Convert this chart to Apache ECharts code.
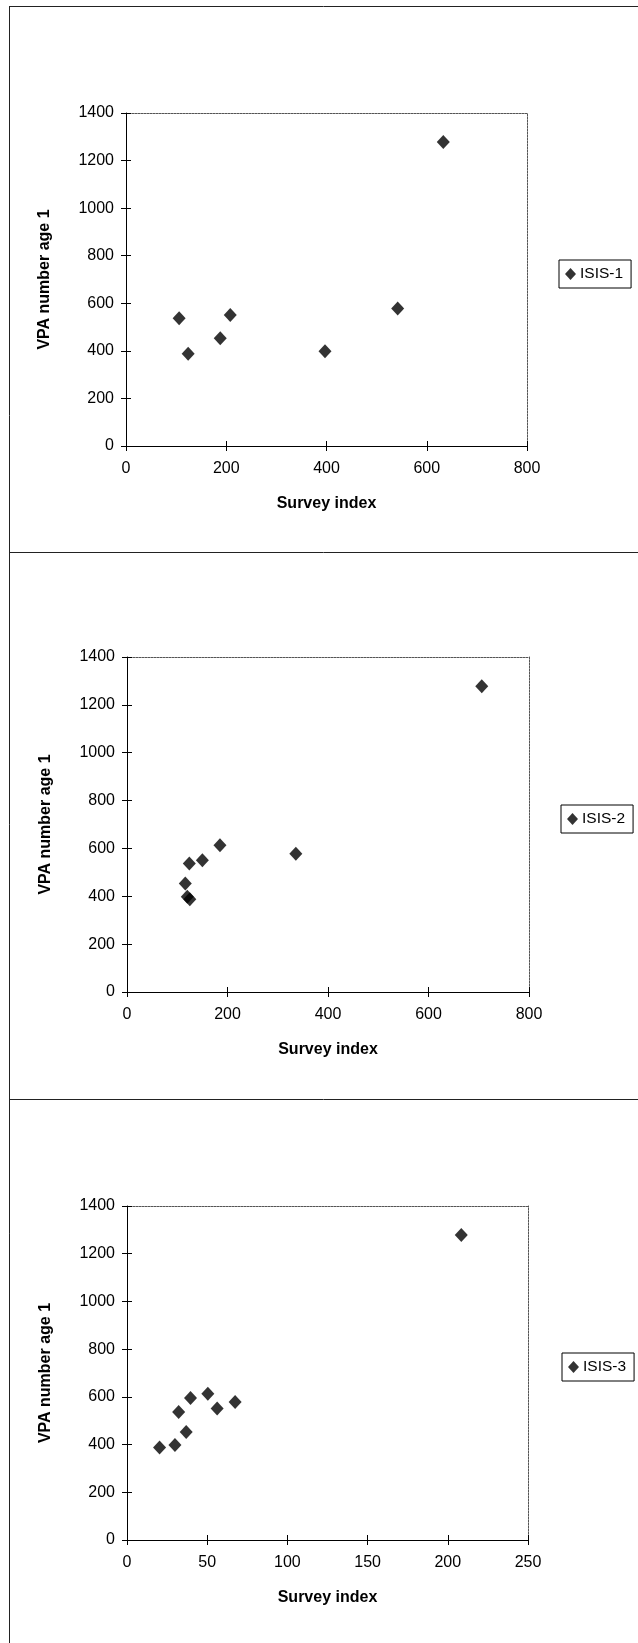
<!DOCTYPE html>
<html>
<head>
<meta charset="utf-8">
<script src="https://cdn.jsdelivr.net/npm/echarts@6/dist/echarts.min.js"></script>
<style>
html,body{margin:0;padding:0;background:#fff;}
#c{width:638px;height:1643px;}
</style>
</head>
<body>
<div id="c"></div>
<script>
// ---- data ----
const seriesNames = ['ISIS-1', 'ISIS-2', 'ISIS-3'];
const xTitle = 'Survey index';
const yTitle = 'VPA number age 1';

const isis1Survey = [106, 124, 188, 208, 397, 542, 633];
const isis1Vpa    = [537, 388, 453, 551, 398, 578, 1278];

const isis2Survey = [116, 120, 125, 124, 150, 185, 336, 706];
const isis2Vpa    = [453, 398, 388, 537, 551, 613, 578, 1278];

const isis3Survey = [20.3, 29.9, 32.2, 36.9, 39.6, 50.4, 56.2, 67.4, 208.4];
const isis3Vpa    = [388, 398, 537, 453, 595, 613, 551, 578, 1278];

const xTicks1 = [0, 200, 400, 600, 800];
const xTicks2 = [0, 200, 400, 600, 800];
const xTicks3 = [0, 50, 100, 150, 200, 250];
const yTicks  = [0, 200, 400, 600, 800, 1000, 1200, 1400];

// ---- layout ----
const panels = [
  {survey: isis1Survey, vpa: isis1Vpa, xt: xTicks1, grid: {left: 126, top: 113, width: 401, height: 333}, legend: {left: 559, top: 260}},
  {survey: isis2Survey, vpa: isis2Vpa, xt: xTicks2, grid: {left: 127, top: 657, width: 402, height: 335}, legend: {left: 561, top: 805}},
  {survey: isis3Survey, vpa: isis3Vpa, xt: xTicks3, grid: {left: 127, top: 1206, width: 401, height: 334}, legend: {left: 562, top: 1353}}
];

const FONT = '"Liberation Sans", Arial, sans-serif';
const plain = v => String(v);
const grids = [], xAxes = [], yAxes = [], series = [], legends = [];

panels.forEach((p, i) => {
  grids.push(Object.assign({containLabel: false}, p.grid));
  const xmin = p.xt[0], xmax = p.xt[p.xt.length - 1], xstep = p.xt[1] - p.xt[0];
  const ymin = yTicks[0], ymax = yTicks[yTicks.length - 1], ystep = yTicks[1] - yTicks[0];
  const baseX = {type: 'value', gridIndex: i, min: xmin, max: xmax, interval: xstep, splitLine: {show: false}};
  const baseY = {type: 'value', gridIndex: i, min: ymin, max: ymax, interval: ystep, splitLine: {show: false}};
  const mainXIdx = xAxes.length;
  xAxes.push(Object.assign({}, baseX, {
    position: 'bottom',
    name: xTitle, nameLocation: 'middle', nameGap: 50,
    nameTextStyle: {fontFamily: FONT, fontSize: 16, fontWeight: 'bold', color: '#000'},
    axisLine: {show: true, onZero: false, lineStyle: {color: '#000', width: 1}},
    axisTick: {show: true, inside: false, length: 5, lineStyle: {color: '#000'}},
    axisLabel: {fontFamily: FONT, fontSize: 16, color: '#000', margin: 15, formatter: plain}
  }));
  xAxes.push(Object.assign({}, baseX, {
    position: 'bottom', axisLine: {show: false, onZero: false},
    axisTick: {show: true, inside: true, length: 5, lineStyle: {color: '#000'}},
    axisLabel: {show: false}
  }));
  xAxes.push(Object.assign({}, baseX, {
    position: 'top', axisLine: {show: true, onZero: false, lineStyle: {color: '#555', width: 1, type: [2, 1]}},
    axisTick: {show: false}, axisLabel: {show: false}
  }));
  const mainYIdx = yAxes.length;
  yAxes.push(Object.assign({}, baseY, {
    position: 'left',
    name: yTitle, nameLocation: 'middle', nameGap: 73, nameRotate: 90,
    nameTextStyle: {fontFamily: FONT, fontSize: 16, fontWeight: 'bold', color: '#000'},
    axisLine: {show: true, onZero: false, lineStyle: {color: '#000', width: 1}},
    axisTick: {show: true, inside: false, length: 5, lineStyle: {color: '#000'}},
    axisLabel: {fontFamily: FONT, fontSize: 16, color: '#000', margin: 12, formatter: plain}
  }));
  yAxes.push(Object.assign({}, baseY, {
    position: 'left', axisLine: {show: false, onZero: false},
    axisTick: {show: true, inside: true, length: 5, lineStyle: {color: '#000'}},
    axisLabel: {show: false}
  }));
  yAxes.push(Object.assign({}, baseY, {
    position: 'right', axisLine: {show: true, onZero: false, lineStyle: {color: '#555', width: 1, type: [2, 1]}},
    axisTick: {show: false}, axisLabel: {show: false}
  }));
  series.push({
    name: seriesNames[i], type: 'scatter',
    xAxisIndex: mainXIdx, yAxisIndex: mainYIdx,
    symbol: 'diamond', symbolSize: [13, 14],
    itemStyle: {color: '#000'},
    data: p.survey.map((s, k) => [s, p.vpa[k]]),
    silent: true
  });
  legends.push({
    data: [{name: seriesNames[i], icon: 'diamond'}],
    left: p.legend.left, top: p.legend.top,
    orient: 'vertical',
    itemWidth: 11, itemHeight: 12, itemGap: 0,
    padding: [6, 8, 6, 6],
    borderColor: '#000', borderWidth: 1,
    backgroundColor: '#fff',
    selectedMode: false,
    textStyle: {fontFamily: FONT, fontSize: 15.5, color: '#000', padding: [0, 0, 0, -1], lineHeight: 16}
  });
});

const lineStyle = {stroke: '#222', lineWidth: 1};
const frame = [
  {type: 'line', shape: {x1: 9, y1: 6.5, x2: 638, y2: 6.5}, style: lineStyle, silent: true},
  {type: 'line', shape: {x1: 9.5, y1: 6.5, x2: 9.5, y2: 1643}, style: lineStyle, silent: true},
  {type: 'line', shape: {x1: 9, y1: 552.5, x2: 638, y2: 552.5}, style: lineStyle, silent: true},
  {type: 'line', shape: {x1: 9, y1: 1099.5, x2: 638, y2: 1099.5}, style: lineStyle, silent: true}
];

const chart = echarts.init(document.getElementById('c'), null, {renderer: 'canvas'});
chart.setOption({
  animation: false,
  backgroundColor: '#fff',
  grid: grids,
  xAxis: xAxes,
  yAxis: yAxes,
  legend: legends,
  series: series,
  graphic: frame
});
</script>
</body>
</html>
